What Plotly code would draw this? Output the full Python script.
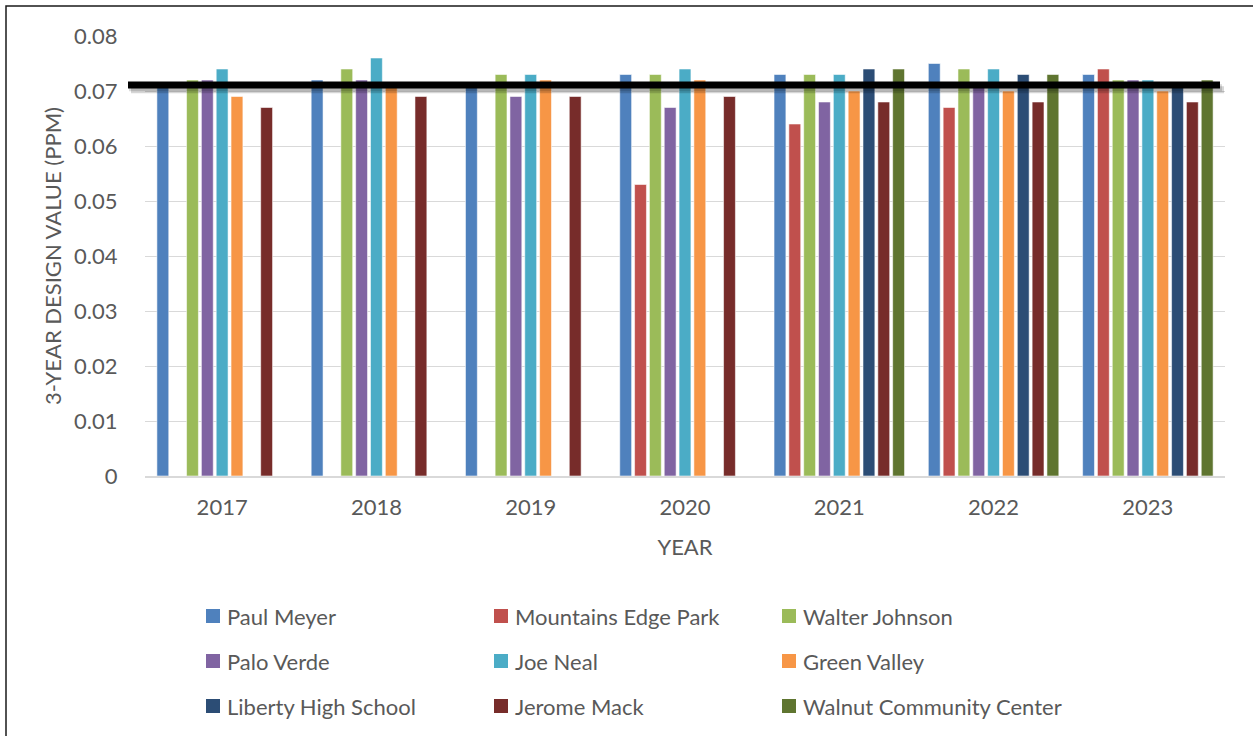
import plotly.graph_objects as go

years = ["2017", "2018", "2019", "2020", "2021", "2022", "2023"]

paul_meyer = [0.071, 0.072, 0.071, 0.073, 0.073, 0.075, 0.073]
mountains_edge = [None, None, None, 0.053, 0.064, 0.067, 0.074]
walter_johnson = [0.072, 0.074, 0.073, 0.073, 0.073, 0.074, 0.072]
palo_verde = [0.072, 0.072, 0.069, 0.067, 0.068, 0.071, 0.072]
joe_neal = [0.074, 0.076, 0.073, 0.074, 0.073, 0.074, 0.072]
green_valley = [0.069, 0.071, 0.072, 0.072, 0.070, 0.070, 0.070]
liberty_hs = [None, None, None, None, 0.074, 0.073, 0.071]
jerome_mack = [0.067, 0.069, 0.069, 0.069, 0.068, 0.068, 0.068]
walnut_cc = [None, None, None, None, 0.074, 0.073, 0.072]

standard = 0.071

series = [
    ("Paul Meyer", paul_meyer, "#4F81BD"),
    ("Mountains Edge Park", mountains_edge, "#C0504D"),
    ("Walter Johnson", walter_johnson, "#9BBB59"),
    ("Palo Verde", palo_verde, "#8064A2"),
    ("Joe Neal", joe_neal, "#4BACC6"),
    ("Green Valley", green_valley, "#F79646"),
    ("Liberty High School", liberty_hs, "#2C4D75"),
    ("Jerome Mack", jerome_mack, "#772C2A"),
    ("Walnut Community Center", walnut_cc, "#5F7530"),
]

W, H = 1253, 736
L, R, T, B = 145, 1225, 36, 476
FONT = "Lato"
FS = 22
TXT = "#595959"

def px(x):
    return (x - L) / (R - L)

def py(y):
    return (B - y) / (B - T)

fig = go.Figure()
for name, vals, col in series:
    fig.add_trace(go.Bar(
        x=years, y=vals, name=name,
        marker=dict(color=col, line=dict(color="rgba(255,255,255,0.55)", width=1)),
        showlegend=False,
    ))

shapes = []
annotations = []

# outer frame
shapes.append(dict(type="rect", xref="paper", yref="paper",
                   x0=px(6), x1=px(1300), y0=py(6), y1=py(800),
                   line=dict(color="#1a1a1a", width=1.5), fillcolor="rgba(0,0,0,0)", layer="below"))

# standard line with shadow
shapes.append(dict(type="line", xref="paper", yref="y",
                   x0=px(131), x1=px(1224), y0=standard - 0.00075, y1=standard - 0.00075,
                   line=dict(color="rgba(0,0,0,0.16)", width=7)))
shapes.append(dict(type="line", xref="paper", yref="y",
                   x0=px(129), x1=px(1222), y0=standard - 0.0004, y1=standard - 0.0004,
                   line=dict(color="rgba(0,0,0,0.14)", width=7)))
shapes.append(dict(type="line", xref="paper", yref="y",
                   x0=px(128), x1=px(1220), y0=standard + 0.0001, y1=standard + 0.0001,
                   line=dict(color="#000000", width=7)))

# manual legend (3 columns x 3 rows)
col_x = [206, 494, 782]
row_y = [616, 661, 706]
for i, (name, vals, col) in enumerate(series):
    cx = col_x[i % 3]
    cy = row_y[i // 3]
    shapes.append(dict(type="rect", xref="paper", yref="paper",
                       x0=px(cx), x1=px(cx + 14), y0=py(cy - 7), y1=py(cy + 7),
                       line=dict(width=0), fillcolor=col))
    annotations.append(dict(xref="paper", yref="paper", x=px(cx + 19), y=py(cy),
                            xanchor="left", yanchor="middle", showarrow=False,
                            text=name, font=dict(family=FONT, size=FS, color=TXT)))

fig.update_layout(
    width=W, height=H,
    margin=dict(l=L, r=W - R, t=T, b=H - B, pad=0),
    paper_bgcolor="white", plot_bgcolor="white",
    barmode="group", bargap=0.135, bargroupgap=0.2,
    font=dict(family=FONT, size=FS, color=TXT),
    shapes=shapes, annotations=annotations,
    showlegend=False,
    xaxis=dict(
        title=dict(text="YEAR", font=dict(family=FONT, size=FS, color=TXT), standoff=20),
        tickfont=dict(family=FONT, size=FS, color=TXT),
        showgrid=False, showline=True, linecolor="#D9D9D9", linewidth=1.5,
        ticks="outside", ticklen=11, tickcolor="rgba(0,0,0,0)",
    ),
    yaxis=dict(
        title=dict(text="3-YEAR DESIGN VALUE (PPM)", font=dict(family=FONT, size=FS, color=TXT), standoff=6),
        range=[0, 0.08], dtick=0.01, tick0=0,
        tickfont=dict(family=FONT, size=FS, color=TXT),
        showgrid=True, gridcolor="#D9D9D9", gridwidth=1,
        zeroline=False, showline=False,
        ticks="outside", ticklen=22, tickcolor="rgba(0,0,0,0)",
    ),
)

fig.write_html("out.html")
